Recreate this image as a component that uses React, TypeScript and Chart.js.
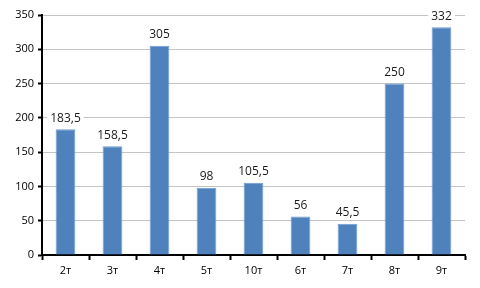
import React, { useEffect, useRef } from "react";
import { Chart, registerables } from "chart.js";

Chart.register(...registerables);

const categories = ["2т", "3т", "4т", "5т", "10т", "6т", "7т", "8т", "9т"];
const values = [183.5, 158.5, 305, 98, 105.5, 56, 45.5, 250, 332];
const yTicks = [0, 50, 100, 150, 200, 250, 300, 350];

const FONT = "'Open Sans', 'DejaVu Sans', sans-serif";

const labelPlugin = {
  id: "barLabels",
  afterDatasetsDraw(chart: any) {
    const ctx = chart.ctx;
    const meta = chart.getDatasetMeta(0);
    ctx.save();
    ctx.font = `12px ${FONT}`;
    ctx.textAlign = "center";
    ctx.textBaseline = "bottom";
    meta.data.forEach((bar: any, i: number) => {
      const txt = String(values[i]).replace(".", ",");
      const w = ctx.measureText(txt).width;
      const y = bar.y - 5;
      ctx.fillStyle = "#ffffff";
      ctx.fillRect(bar.x - w / 2 - 3, y - 15, w + 6, 15);
      ctx.fillStyle = "#1a1a1a";
      ctx.fillText(txt, bar.x, y);
    });
    ctx.restore();
  },
};

export default function App() {
  const ref = useRef<HTMLCanvasElement>(null);
  useEffect(() => {
    document.body.style.margin = "0";
    const chart = new Chart(ref.current!, {
      type: "bar",
      data: {
        labels: categories,
        datasets: [
          {
            data: values,
            backgroundColor: "#4F81BD",
            borderColor: "#6e9bd3",
            borderWidth: 1,
            barPercentage: 0.42,
            categoryPercentage: 1,
          },
        ],
      },
      plugins: [labelPlugin],
      options: {
        responsive: false,
        animation: false,
        layout: { padding: { top: 15, right: 15, left: 0, bottom: 0 } },
        plugins: { legend: { display: false }, tooltip: { enabled: false } },
        scales: {
          x: {
            grid: {
              drawOnChartArea: false,
              drawTicks: true,
              tickLength: 5,
              tickColor: "#000",
              tickWidth: 2,
              offset: true,
            },
            border: { display: true, color: "#000", width: 2 },
            ticks: { color: "#000", font: { size: 11, family: FONT }, padding: 4 },
            afterFit: (s: any) => {
              s.height = 33;
            },
          },
          y: {
            min: 0,
            max: 350,
            afterBuildTicks: (s: any) => {
              s.ticks = yTicks.map((v) => ({ value: v }));
            },
            grid: {
              color: "#c4c4c4",
              lineWidth: 1,
              tickLength: 4,
              tickColor: "#000",
              tickWidth: 2,
            },
            border: { display: true, color: "#000", width: 2 },
            ticks: { color: "#000", font: { size: 11, family: FONT }, padding: 4 },
            afterFit: (s: any) => {
              s.width = 42;
            },
          },
        },
      },
    });
    return () => chart.destroy();
  }, []);
  return (
    <div style={{ width: 480, height: 288 }}>
      <canvas ref={ref} width={480} height={288} />
    </div>
  );
}
